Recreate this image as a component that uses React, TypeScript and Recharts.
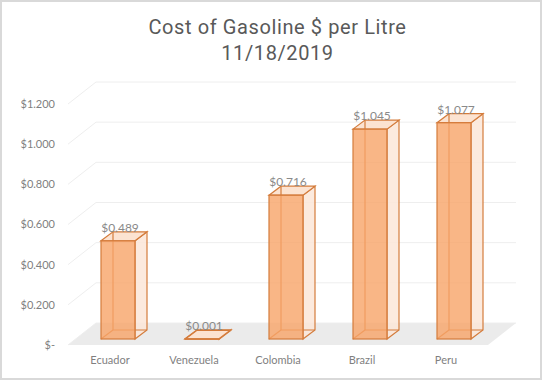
import React from 'react'
import { BarChart, Bar, XAxis, YAxis, CartesianGrid, LabelList } from 'recharts'

const countries = ['Ecuador', 'Venezuela', 'Colombia', 'Brazil', 'Peru']
const prices = [0.489, 0.001, 0.716, 1.045, 1.077]
const yTicks = [0, 0.2, 0.4, 0.6, 0.8, 1.0, 1.2]

const data = countries.map((name, i) => ({ name, price: prices[i] }))

// fake 3d: back wall offset, bar depth, bar shift from band
const WALL_DX = 28
const WALL_DY = -22
const BOX_DX = 12
const BOX_DY = -9
const SHIFT_X = 8
const SHIFT_Y = -6

const W = 542
const H = 380
const MARGIN = { top: 104, right: 54, bottom: 5, left: 0 }
const XAXIS_H = 30
const PLOT_BOTTOM = H - MARGIN.bottom - XAXIS_H

const money = (v: number) => (v === 0 ? '$-' : '$' + v.toFixed(3))

const GridLine = (props: any) => {
  const { x1, x2, y1 } = props
  const by = y1 + WALL_DY
  const isFloor = Math.abs(y1 - PLOT_BOTTOM) < 1
  return (
    <g key={props.key}>
      {isFloor && (
        <polygon
          points={`${x1},${y1} ${x2},${y1} ${x2 + WALL_DX},${by} ${x1 + WALL_DX},${by}`}
          fill="#ebebeb"
        />
      )}
      <polyline
        points={`${x1},${y1} ${x1 + WALL_DX},${by} ${x2 + WALL_DX},${by}`}
        fill="none"
        stroke="#eeeeee"
        strokeWidth={1}
      />
    </g>
  )
}

const Box = (props: any) => {
  const { x, y, width, height } = props
  const fx = x + SHIFT_X
  const fy = y + SHIFT_Y
  const w = width
  const h = Math.max(height, 0.5)
  const bx = fx + BOX_DX
  const by = fy + BOX_DY
  const edge = '#d47c3c'
  return (
    <g>
      <polygon
        points={`${fx + w},${fy} ${bx + w},${by} ${bx + w},${by + h} ${fx + w},${fy + h}`}
        fill="#fbe6d8"
        fillOpacity={0.85}
        stroke={edge}
        strokeWidth={1.2}
      />
      <polygon
        points={`${fx},${fy} ${bx},${by} ${bx + w},${by} ${fx + w},${fy}`}
        fill="#fce3d1"
        stroke={edge}
        strokeWidth={1.2}
      />
      <line x1={bx} y1={by} x2={bx} y2={by + h} stroke={edge} strokeWidth={1.2} />
      <line x1={bx} y1={by + h} x2={bx + w} y2={by + h} stroke={edge} strokeWidth={1.2} />
      <line x1={fx} y1={fy + h} x2={bx} y2={by + h} stroke={edge} strokeWidth={1.2} />
      <rect
        x={fx}
        y={fy}
        width={w}
        height={h}
        fill="#f7a468"
        fillOpacity={0.8}
        stroke={edge}
        strokeWidth={1.2}
      />
    </g>
  )
}

const PriceLabel = (props: any) => {
  const { x, y, width, value } = props
  return (
    <text
      x={x + width / 2 + SHIFT_X + 2}
      y={y + SHIFT_Y - 9}
      textAnchor="middle"
      fill="#8a8a8a"
      fontSize={12}
      fontFamily="Lato"
    >
      {money(value)}
    </text>
  )
}

export default function App() {
  return (
    <div
      style={{
        position: 'absolute',
        left: 0,
        top: 0,
        width: W,
        height: H,
        background: '#fff',
      }}
    >
      <div
        style={{
          position: 'absolute',
          left: 0,
          top: 0,
          width: W,
          height: H,
          boxSizing: 'border-box',
          border: '2px solid #d9d9d9',
          pointerEvents: 'none',
          zIndex: 2,
        }}
      />
      <div
        style={{
          position: 'absolute',
          left: 0,
          top: 14,
          width: 555,
          textAlign: 'center',
          fontFamily: 'Roboto',
          fontSize: 20,
          lineHeight: '26px',
          letterSpacing: 0.6,
          color: '#595959',
        }}
      >
        Cost of Gasoline $ per Litre
        <br />
        11/18/2019
      </div>
      <BarChart width={W} height={H} data={data} margin={MARGIN}>
        <CartesianGrid vertical={false} horizontal={GridLine} />
        <XAxis
          dataKey="name"
          axisLine={false}
          tickLine={false}
          tickSize={0}
          tickMargin={11}
          height={XAXIS_H}
          interval={0}
          tick={{ fill: '#7f7f7f', fontSize: 11, fontFamily: 'Lato' }}
        />
        <YAxis
          width={68}
          domain={[0, 1.2]}
          ticks={yTicks}
          tickFormatter={money}
          axisLine={false}
          tickLine={false}
          tickSize={0}
          tickMargin={13}
          tick={{ fill: '#7f7f7f', fontSize: 11, fontFamily: 'Lato' }}
        />
        <Bar dataKey="price" barSize={34} shape={Box} isAnimationActive={false}>
          <LabelList dataKey="price" content={PriceLabel} />
        </Bar>
      </BarChart>
    </div>
  )
}
